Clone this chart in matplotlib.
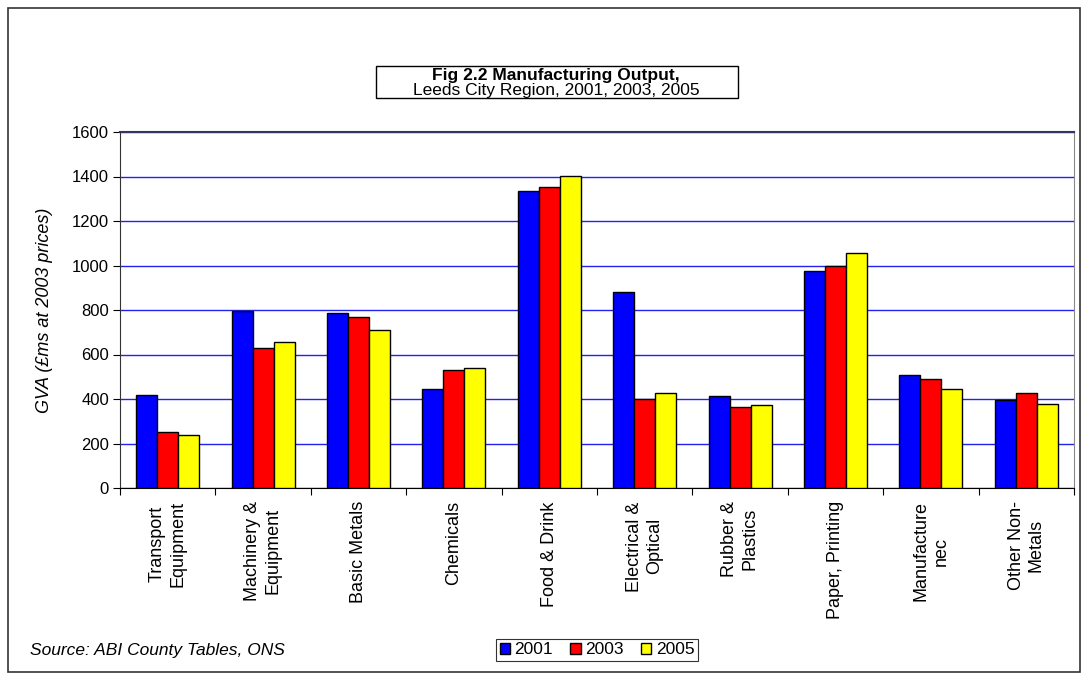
import matplotlib
matplotlib.use("Agg")
import matplotlib.pyplot as plt
from matplotlib.patches import Rectangle
import numpy as np

plt.rcParams['font.family'] = ['Liberation Sans', 'DejaVu Sans']

categories = ['Transport\nEquipment', 'Machinery &\nEquipment', 'Basic Metals',
              'Chemicals', 'Food & Drink', 'Electrical &\nOptical', 'Rubber &\nPlastics',
              'Paper, Printing', 'Manufacture\nnec', 'Other Non-\nMetals']
years = ['2001', '2003', '2005']
gva_2001 = [417, 797, 785, 447, 1335, 883, 413, 974, 506, 396]
gva_2003 = [251, 629, 770, 530, 1354, 401, 365, 998, 488, 426]
gva_2005 = [236, 656, 712, 541, 1404, 426, 374, 1057, 446, 377]
colors = ['#0000FF', '#FF0000', '#FFFF00']

fig = plt.figure(figsize=(10.89, 6.8), dpi=100)
# outer chart border
fig.patches.append(Rectangle((8/1089, 8/680), 1072/1089, 664/680, transform=fig.transFigure,
                             fill=False, edgecolor='#333333', linewidth=1.2))

ax = fig.add_axes([120/1089, 1 - 488/680, 954/1089, 356/680])
x = np.arange(len(categories))
w = 0.22
for i, (vals, c) in enumerate(zip([gva_2001, gva_2003, gva_2005], colors)):
    ax.bar(x + (i - 1) * w, vals, width=w, color=c, edgecolor='black', linewidth=1,
           label=years[i], zorder=3)

ax.set_xlim(-0.5, len(categories) - 0.5)
ax.set_ylim(0, 1600)
ax.set_yticks(range(0, 1601, 200))
ax.yaxis.grid(True, color='#2222F0', linewidth=1, zorder=0)
ax.tick_params(axis='y', direction='out', length=5, labelsize=12, pad=3)
ax.set_xticks(np.arange(len(categories) + 1) - 0.5)
ax.set_xticklabels([])
ax.tick_params(axis='x', direction='out', length=5)
for xi, lab in zip(x, categories):
    ax.text(xi, -0.037, lab, transform=ax.get_xaxis_transform(), rotation=90,
            ha='center', va='top', multialignment='center', fontsize=13,
            linespacing=1.25)
ax.spines['left'].set_color('#333333')
ax.spines['bottom'].set_color('black')
ax.spines['top'].set_color('#333366')
ax.spines['top'].set_linewidth(1.5)
ax.spines['right'].set_color('#888888')
ax.set_ylabel('GVA (£ms at 2003 prices)', fontstyle='italic', fontsize=13)
ax.yaxis.set_label_coords(-67/954, 0.5)

fig.text(556/1089, 1 - 80/680, 'Fig 2.2 Manufacturing Output,', ha='center', va='baseline',
         fontsize=12.5, fontweight='bold')
fig.text(556/1089, 1 - 95.5/680, 'Leeds City Region, 2001, 2003, 2005', ha='center',
         va='baseline', fontsize=12.5)
fig.patches.append(Rectangle((376/1089, 1 - 98/680), 362/1089, 32/680, transform=fig.transFigure,
                             fill=False, edgecolor='black', linewidth=1))

fig.text(30/1089, 1 - 650/680, 'Source: ABI County Tables, ONS', fontstyle='italic',
         fontsize=12.5, va='center')

leg = fig.legend(loc='center', bbox_to_anchor=(597/1089, 1 - 650/680), ncol=3, fontsize=12.5,
                 frameon=True, fancybox=False, edgecolor='black', handlelength=0.6,
                 handleheight=0.6, handletextpad=0.25, columnspacing=1.0, borderpad=0.2,
                 borderaxespad=0)
leg.get_frame().set_linewidth(0.8)

fig.savefig('out.png', dpi=100)
